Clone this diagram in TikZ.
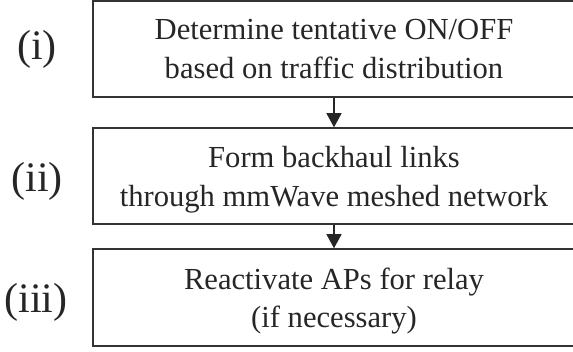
\documentclass[tikz,border=0pt]{standalone}
\usepackage{fontspec}
\setmainfont{Liberation Serif}
\usetikzlibrary{arrows.meta}
\begin{document}
\begin{tikzpicture}[x=1pt,y=1pt,
  stepbox/.style={draw=black!80, line width=1.5pt, minimum width=482pt, inner sep=0pt},
  steptext/.style={inner sep=0pt, align=center, font=\fontsize{30.6}{38.5}\selectfont, text=black!85},
  lbl/.style={font=\fontsize{42}{44}\selectfont, text=black!85},
  conn/.style={draw=black!85, line width=1.2pt, -{Triangle[length=14pt,width=15pt]}}]
\clip (0,0) rectangle (573,351);
\node[stepbox, minimum height=96pt] (b1) at (334,302) {};
\node[stepbox, minimum height=96pt] (b2) at (334,175) {};
\node[stepbox, minimum height=97pt] (b3) at (334,53.5) {};
\node[steptext] (t1) at (b1.center) {Determine tentative ON/OFF\\based on traffic distribution};
\node[steptext] (t2) at ([yshift=-3.5pt]b2.center) {Form backhaul links\\through mmWave meshed network};
\node[steptext] (t3) at ([yshift=-3.5pt]b3.center) {Reactivate APs for relay\\(if necessary)};
\node[lbl] (l1) at (37,301.5) {(i)};
\node[lbl] (l2) at (37,170) {(ii)};
\node[lbl] (l3) at (36,48.5) {(iii)};
\draw[conn] (b1.south) -- (b2.north);
\draw[conn] (b2.south) -- (b3.north);
\end{tikzpicture}
\end{document}
